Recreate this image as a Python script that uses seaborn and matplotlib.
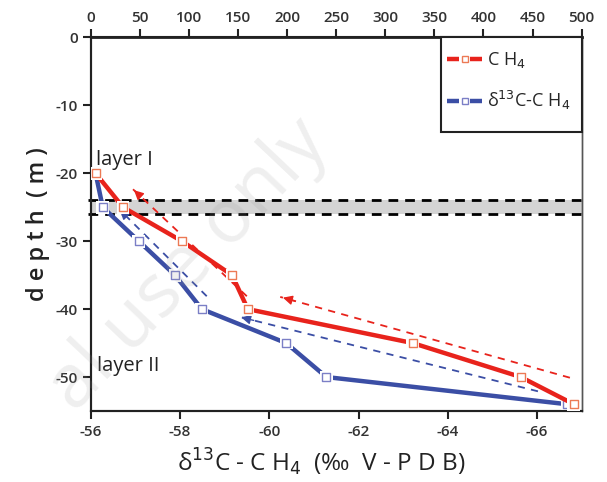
import numpy as np
import pandas as pd
import seaborn as sns
import matplotlib.pyplot as plt
from matplotlib.lines import Line2D
from matplotlib.patches import Rectangle
from matplotlib.legend_handler import HandlerBase

# ---------------- data ----------------
depth = [-20, -25, -30, -35, -40, -45, -50, -54]
ch4 = [5, 33, 93, 144, 160, 328, 438, 492]                     # top axis
d13c = [-56.11, -56.27, -57.08, -57.89, -58.49, -60.38, -61.28, -66.67]  # bottom axis

band_depth = [-24, -26]

# trend arrows (tail -> head)
red_arrow_x = [[159, 42], [488, 193]]
red_arrow_y = [[-38.1, -22.2], [-50.1, -38.2]]
blue_arrow_x = [[-58.6, -56.61], [-66.02, -59.31]]
blue_arrow_y = [[-38.1, -25.1], [-52.1, -41.1]]

top_ticks = [0, 50, 100, 150, 200, 250, 300, 350, 400, 450, 500]
bottom_ticks = [-56, -58, -60, -62, -64, -66]
y_ticks = [0, -10, -20, -30, -40, -50]

legend_labels = ["C H$_4$", "δ$^{13}$C-C H$_4$"]

RED = "#e8231c"
RED_M = "#ec7a55"
BLUE = "#3b4ea5"
BLUE_M = "#7b7fc6"

sns.set_theme(style="white")
plt.rcParams["font.family"] = ["Open Sans", "DejaVu Sans"]

fig = plt.figure(figsize=(6.07, 4.82), dpi=100)
ax = fig.add_axes([0.1494, 0.1473, 0.9583 - 0.1494, 0.9222 - 0.1473])
ax2 = ax.twiny()

# gray band
ax.axhspan(band_depth[1], band_depth[0], color="#d4d4d4", zorder=0, lw=0)
for yv in band_depth:
    ax.axhline(yv, color="black", lw=2, ls=(0, (3.5, 2.5)), zorder=1, xmin=-0.005, xmax=1.0, clip_on=False)

df_b = pd.DataFrame({"x": d13c, "depth": depth})
df_r = pd.DataFrame({"x": ch4, "depth": depth})

# blue (delta13C) on bottom axis
sns.lineplot(data=df_b, x="x", y="depth", sort=False, color=BLUE, lw=3.2, ax=ax, zorder=2)
sns.scatterplot(data=df_b, x="x", y="depth", marker="s", s=85, color="white", edgecolor="none", ax=ax, zorder=3)
sns.scatterplot(data=df_b, x="x", y="depth", marker="s", s=26, color="white", edgecolor=BLUE_M, linewidth=1, ax=ax, zorder=4)

for xs, ys in zip(blue_arrow_x, blue_arrow_y):
    ax.plot(xs, ys, color=BLUE, lw=1.3, ls=(0, (4, 3.5)), zorder=2)
    ax.annotate("", xy=(xs[1], ys[1]),
                xytext=(xs[1] + (xs[0] - xs[1]) * 0.06, ys[1] + (ys[0] - ys[1]) * 0.06),
                arrowprops=dict(arrowstyle="-|>", color=BLUE, lw=1, mutation_scale=14), zorder=2)

# red (CH4) on top axis
sns.lineplot(data=df_r, x="x", y="depth", sort=False, color=RED, lw=3.2, ax=ax2, zorder=2)
sns.scatterplot(data=df_r, x="x", y="depth", marker="s", s=85, color="white", edgecolor="none", ax=ax2, zorder=3)
sns.scatterplot(data=df_r, x="x", y="depth", marker="s", s=26, color="white", edgecolor=RED_M, linewidth=1, ax=ax2, zorder=4)

for xs, ys in zip(red_arrow_x, red_arrow_y):
    ax2.plot(xs, ys, color=RED, lw=1.3, ls=(0, (4, 3.5)), zorder=2)
    ax2.annotate("", xy=(xs[1], ys[1]),
                 xytext=(xs[1] + (xs[0] - xs[1]) * 0.06, ys[1] + (ys[0] - ys[1]) * 0.06),
                 arrowprops=dict(arrowstyle="-|>", color=RED, lw=1, mutation_scale=14), zorder=2)

# axes limits / ticks
ax.set_xlim(-56, -67)
ax.set_ylim(-55, 0)
ax2.set_xlim(0, 500)
ax2.set_ylim(-55, 0)
ax.set_xticks(bottom_ticks)
ax.set_xticklabels([str(t) for t in bottom_ticks])
ax.set_yticks(y_ticks)
ax.set_yticklabels([str(t) for t in y_ticks])
ax2.set_xticks(top_ticks)
ax2.set_xticklabels([str(t) for t in top_ticks])

for lab in ax.get_xticklabels() + ax.get_yticklabels() + ax2.get_xticklabels():
    lab.set_fontsize(11)
    lab.set_fontweight("semibold")
    lab.set_color("#333333")

ax.tick_params(axis="x", bottom=True, direction="out", length=6, width=1.5, color="#222222", pad=4)
ax.tick_params(axis="y", left=True, direction="out", length=6, width=1.5, color="#222222", pad=3)
ax2.tick_params(axis="x", top=True, direction="out", length=6, width=1.5, color="#222222", pad=3)

for a in (ax, ax2):
    for s in a.spines.values():
        s.set_color("#222222")
        s.set_linewidth(1.5)
for a in (ax, ax2):
    a.spines["right"].set_linewidth(1.0)
    a.spines["right"].set_color("#555555")
ax2.spines["top"].set_linewidth(2)

ax.set_xlabel("δ$^{13}$C - C H$_4$  (‰  V - P D B)", fontsize=17.5, color="#222222")
ax.xaxis.set_label_coords(0.47, -0.095)
ax.set_ylabel("d e p t h  ( m )", fontsize=17, fontweight="semibold", color="#222222", labelpad=4)
ax2.set_xlabel("")
ax2.set_ylabel("")

# layer labels
ax.text(-56.12, -18, "layer I", fontsize=14.5, color="#222222", va="center", ha="left", zorder=5)
ax.text(-56.14, -48.3, "layer II", fontsize=14.5, color="#222222", va="center", ha="left", zorder=5)


# legend: line - gap - open square - gap - line
class GapHandler(HandlerBase):
    def create_artists(self, legend, orig_handle, xdescent, ydescent, width, height, fontsize, trans):
        c = orig_handle.get_color()
        mc = orig_handle.get_markeredgecolor()
        y = height / 2 - ydescent
        x0 = -xdescent
        x1 = x0 + width
        cx = (x0 + x1) / 2
        gap = width * 0.17
        l1 = Line2D([x0, cx - gap], [y, y], color=c, lw=3.2, solid_capstyle="butt")
        l2 = Line2D([cx + gap, x1], [y, y], color=c, lw=3.2, solid_capstyle="butt")
        m = Line2D([cx], [y], ls="none", marker="s", markersize=4.5, mfc="white", mec=mc, mew=1)
        for a in (l1, l2, m):
            a.set_transform(trans)
        return [l1, l2, m]


handles = [Line2D([], [], color=RED, mec=RED_M), Line2D([], [], color=BLUE, mec=BLUE_M)]

frame = Rectangle((0.7134, 0.747), 1.0 - 0.7134, 0.253, transform=ax2.transAxes,
                  facecolor="white", edgecolor="#222222", lw=1.5, zorder=6, clip_on=False)
ax2.add_patch(frame)

leg = ax2.legend(handles, legend_labels, handler_map={Line2D: GapHandler()},
                 loc="upper left", bbox_to_anchor=(0.7257, 0.966), borderaxespad=0,
                 frameon=False, fontsize=13, handlelength=1.94, borderpad=0,
                 handletextpad=0.28, labelspacing=1.05)
leg.set_zorder(7)

# watermark
fig.text(0.31, 0.45, "al use only", fontsize=54, rotation=46.5, color="#9a9a9a",
         alpha=0.16, ha="center", va="center", zorder=10)

fig.savefig("out.png", dpi=100)
